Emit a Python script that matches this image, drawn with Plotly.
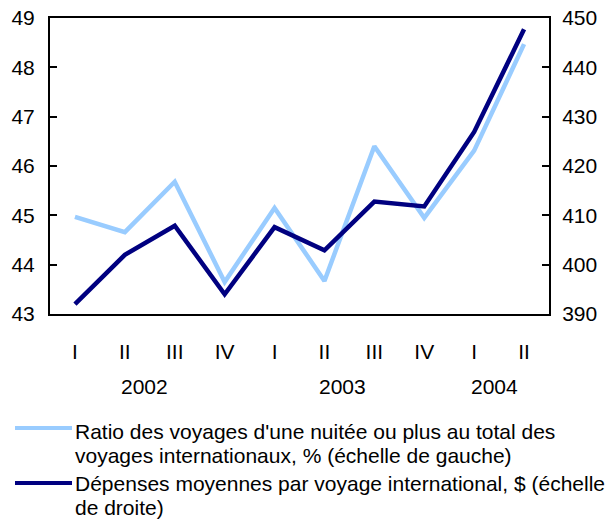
import plotly.graph_objects as go

quarters = ["I", "II", "III", "IV", "I", "II", "III", "IV", "I", "II"]
years = ["2002", "2003", "2004"]
year_pos = [1.4, 5.37, 8.4]
ratio_pct = [44.97, 44.66, 45.68, 43.65, 45.15, 43.67, 46.40, 44.95, 46.31, 48.47]
spend_usd = [392.0, 402.0, 407.9, 394.0, 407.6, 402.9, 412.8, 411.8, 426.9, 447.7]
legend_lines = [
    ["Ratio des voyages d'une nuitée ou plus au total des",
     "voyages internationaux, % (échelle de gauche)"],
    ["Dépenses moyennes par voyage international, $ (échelle",
     "de droite)"],
]

LIGHT = "#99CCFF"
NAVY = "#000080"
FONT = "Liberation Sans, Arial, sans-serif"
FS_TICK = 21
FS_LEG = 21

W, H = 608, 521
L, T = 50, 18
R = W - 549
B = H - 314
PW, PH = W - L - R, H - T - B

def px_x(p):
    return (p - L) / PW

def px_y(p):
    return (H - B - p) / PH

x = list(range(len(quarters)))

fig = go.Figure()
fig.add_trace(go.Scatter(x=x, y=ratio_pct, mode="lines",
                         line=dict(color=LIGHT, width=4.5), yaxis="y",
                         hoverinfo="skip"))
fig.add_trace(go.Scatter(x=x, y=spend_usd, mode="lines",
                         line=dict(color=NAVY, width=4.5), yaxis="y2",
                         hoverinfo="skip"))

axis_common = dict(showgrid=False, zeroline=False, showline=True,
                   linecolor="black", linewidth=2, automargin=False,
                   ticklabeloverflow="allow",
                   tickfont=dict(family=FONT, size=FS_TICK, color="black"))

fig.update_layout(
    width=W, height=H,
    margin=dict(l=L, r=R, t=T, b=B, autoexpand=False),
    paper_bgcolor="white", plot_bgcolor="white",
    showlegend=False,
    xaxis=dict(range=[-0.5, len(quarters) - 0.5], tickvals=x, ticktext=quarters,
               ticks="", mirror=True, ticklabelstandoff=18, **axis_common),
    yaxis=dict(range=[43, 49], tickvals=list(range(43, 50)), ticks="inside",
               ticklen=7, tickwidth=2, tickcolor="black",
               ticklabelstandoff=9, **axis_common),
    yaxis2=dict(range=[390, 450], tickvals=list(range(390, 451, 10)),
                overlaying="y", side="right", ticks="inside",
                ticklen=7, tickwidth=2, tickcolor="black",
                ticklabelstandoff=7, **axis_common),
)

for yr, xp in zip(years, year_pos):
    fig.add_annotation(x=xp, xref="x", y=px_y(386), yref="paper", text=yr,
                       showarrow=False, xanchor="center", yanchor="middle",
                       font=dict(family=FONT, size=FS_TICK, color="black"))

line_y = [428, 483]
text_baselines = [[438, 462], [490, 514]]
colors = [LIGHT, NAVY]
for i, entry in enumerate(legend_lines):
    fig.add_shape(type="line", xref="paper", yref="paper",
                  x0=px_x(15), x1=px_x(72), y0=px_y(line_y[i]), y1=px_y(line_y[i]),
                  line=dict(color=colors[i], width=4))
    for j, txt in enumerate(entry):
        fig.add_annotation(x=px_x(73), xref="paper",
                           y=px_y(text_baselines[i][j] - 7), yref="paper",
                           text=txt, showarrow=False, xanchor="left",
                           yanchor="middle",
                           font=dict(family=FONT, size=FS_LEG, color="black"))

fig.write_html("out.html",
               config={"displayModeBar": False},
               post_script="document.body.style.margin='0';"
                           "document.body.style.overflow='hidden';")
